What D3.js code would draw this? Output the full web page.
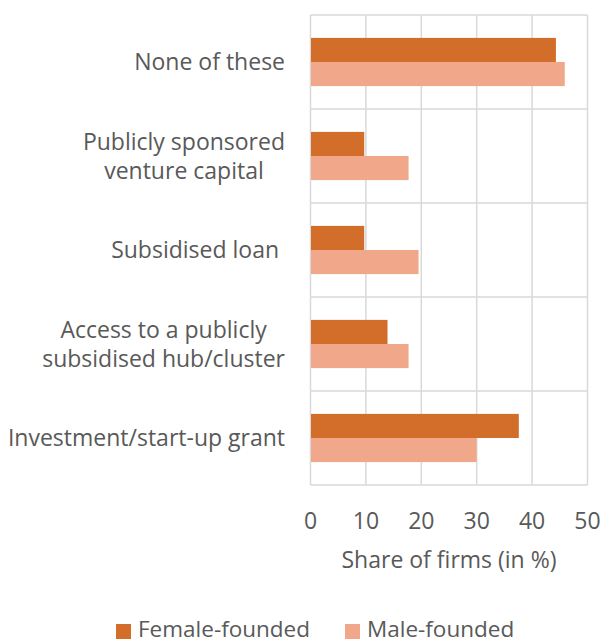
<!DOCTYPE html>
<html><head><meta charset="utf-8">
<script src="https://cdn.jsdelivr.net/npm/d3@7"></script>
<style>body{margin:0;background:#fff}svg{display:block}text{font-family:"Open Sans",sans-serif;fill:#595959;white-space:pre}</style>
</head><body><svg id="c" width="601" height="642"></svg>
<script>
const categories = [
  ["None of these"],
  ["Publicly sponsored","venture capital"],
  ["Subsidised loan "],
  ["Access to a publicly","subsidised hub/cluster"],
  ["Investment/start-up grant"]
];
const seriesNames = ["Female-founded","Male-founded"];
const female = [44.3, 9.7, 9.7, 13.9, 37.6];
const male = [45.9, 17.7, 19.5, 17.7, 30.0];
const xTicks = [0,10,20,30,40,50];
const colors = ["#D26E2A","#F1A88A"];

const FS = 23;
const svg = d3.select("#c");
const L=310.5, R=587.5, T=15, B=485;
const x = d3.scaleLinear().domain([0,50]).range([L,R]);
const y = d3.scaleBand().domain(d3.range(categories.length)).range([T,B]);
const inner = d3.scaleBand().domain([0,1]).range([0,y.bandwidth()]).paddingInner(0).paddingOuter(0.95);

const grid = svg.append("g").attr("stroke","#D9D9D9").attr("stroke-width",1.5);
xTicks.forEach(t=>grid.append("line").attr("x1",x(t)).attr("x2",x(t)).attr("y1",T).attr("y2",B));
d3.range(categories.length+1).forEach(i=>{
  const yy = i<categories.length ? y(i) : B;
  grid.append("line").attr("x1",L).attr("x2",R).attr("y1",yy).attr("y2",yy);
});

const series=[female,male];
series.forEach((vals,s)=>{
  svg.append("g").selectAll("rect").data(vals).join("rect")
    .attr("x",x(0)+0.5).attr("y",(d,i)=>y(i)+inner(s))
    .attr("width",d=>x(d)-x(0)-0.5).attr("height",inner.bandwidth())
    .attr("fill",colors[s]);
});

// category labels
categories.forEach((lines,i)=>{
  const cy = y(i)+y.bandwidth()/2;
  const lh = 29;
  const t = svg.append("text").attr("font-size",FS).attr("text-anchor","middle");
  lines.forEach((ln,k)=>{
    t.append("tspan").attr("x",0).attr("y",cy + (k-(lines.length-1)/2)*lh + 8).text(ln);
  });
  const w = Math.max(...t.selectAll("tspan").nodes().map(n=>n.getComputedTextLength()));
  t.attr("transform",`translate(${285 - w/2},0)`);
});

// x axis ticks
svg.append("g").selectAll("text").data(xTicks).join("text")
  .attr("x",d=>x(d)).attr("y",529).attr("font-size",FS).attr("text-anchor","middle").text(d=>d);
svg.append("text").attr("x",449).attr("y",568).attr("font-size",FS).attr("text-anchor","middle").text("Share of firms (in %)");

// legend
const leg=[{x:116},{x:345}];
seriesNames.forEach((n,i)=>{
  svg.append("rect").attr("x",leg[i].x).attr("y",624).attr("width",15).attr("height",15).attr("fill",colors[i]);
  svg.append("text").attr("x",leg[i].x+22).attr("y",636.5).attr("font-size",22.5).text(n);
});
</script></body></html>
